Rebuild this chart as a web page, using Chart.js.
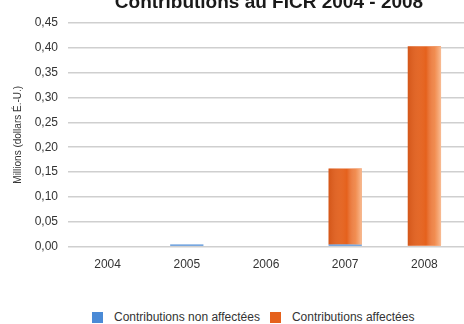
<!DOCTYPE html>
<html>
<head>
<meta charset="utf-8">
<script src="https://cdn.jsdelivr.net/npm/chart.js@4/dist/chart.umd.min.js"></script>
<style>
  html, body { margin: 0; padding: 0; background: #fff; }
  #wrap { width: 464px; height: 324px; position: relative; }
  #canvasBox { position: absolute; left: 0; top: 0; width: 464px; height: 290px; }
  #legende {
    position: absolute; left: 92px; top: 310px; width: 372px;
    font: 12px 'Liberation Sans', Arial, sans-serif; color: #333;
    display: flex; align-items: center; white-space: nowrap; line-height: 14px;
  }
  #legende .item { display: flex; align-items: center; margin-right: 10px; }
  #legende .boite { width: 11px; height: 11px; margin-right: 11px; }
</style>
</head>
<body>
<div id="wrap">
  <div id="canvasBox"><canvas id="chartFicr"></canvas></div>
  <div id="legende"></div>
</div>
<script>
// Données (millions de dollars É.-U.)
const annees = ["2004", "2005", "2006", "2007", "2008"];
const nonAffectees = [0, 0.004, 0, 0.004, 0];
const affectees = [0, 0, 0, 0.153, 0.403];
const titre = "Contributions au FICR 2004 - 2008";
const police = "'Liberation Sans Narrow', 'Liberation Sans', sans-serif";

// Titre centré sur la zone du graphique (coupé en haut comme l'original)
const titrePlugin = {
    id: "titre",
    afterDraw(chart) {
        const { ctx, chartArea } = chart;
        ctx.save();
        ctx.font = "bold 19px " + police;
        ctx.fillStyle = "#1a1a1a";
        ctx.textAlign = "center";
        ctx.textBaseline = "alphabetic";
        ctx.fillText(titre, (chartArea.left + chartArea.right) / 2 + 3, 8);
        ctx.restore();
    }
};

// Petit reflet sur la droite des barres pour l'effet 3D
const refletPlugin = {
    id: "reflet",
    afterDatasetsDraw(chart) {
        const ctx = chart.ctx;
        chart.data.datasets.forEach((ds, i) => {
            const meta = chart.getDatasetMeta(i);
            meta.data.forEach(bar => {
                const h = bar.base - bar.y;
                if (h < 2) return;
                const left = bar.x - bar.width / 2;
                const g = ctx.createLinearGradient(left, 0, left + bar.width, 0);
                g.addColorStop(0, "rgba(160,50,10,0.25)");
                g.addColorStop(0.55, "rgba(255,255,255,0)");
                g.addColorStop(0.8, "rgba(255,190,140,0.45)");
                g.addColorStop(1, "rgba(255,220,190,0.75)");
                ctx.save();
                ctx.fillStyle = g;
                ctx.fillRect(left, bar.y, bar.width, h);
                ctx.restore();
            });
        });
    }
};

const chart = new Chart(document.getElementById("chartFicr").getContext("2d"), {
    type: "bar",
    data: {
        labels: annees,
        datasets: [
            {
                label: "Contributions non affectées",
                data: nonAffectees,
                backgroundColor: "#4a8ad6",
                barPercentage: 0.42,
                categoryPercentage: 1
            },
            {
                label: "Contributions affectées",
                data: affectees,
                backgroundColor: "#e5611c",
                barPercentage: 0.42,
                categoryPercentage: 1
            }
        ]
    },
    options: {
        responsive: true,
        maintainAspectRatio: false,
        animation: false,
        layout: { padding: { top: 23, right: 0, left: 0, bottom: 15 } },
        scales: {
            x: {
                stacked: true,
                grid: { display: false },
                border: { display: false },
                ticks: { color: "#333", font: { family: police, size: 12 }, padding: 3 }
            },
            y: {
                stacked: true,
                min: 0,
                max: 0.45,
                grid: { color: "#cfcfcf", lineWidth: 1.5, drawTicks: false },
                border: { display: false },
                afterFit: scale => { scale.width = 68; },
                ticks: {
                    stepSize: 0.05,
                    padding: 10,
                    color: "#333",
                    font: { family: police, size: 12 },
                    callback: v => v.toFixed(2).replace(".", ",")
                },
                title: {
                    display: true,
                    text: "Millions (dollars É.-U.)",
                    color: "#333",
                    font: { family: police, size: 10 },
                    padding: { top: 12, bottom: 0 }
                }
            }
        },
        plugins: {
            legend: { display: false },
            tooltip: { enabled: false }
        }
    },
    plugins: [titrePlugin, refletPlugin]
});

// Légende HTML (même couleurs que les séries)
const legende = document.getElementById("legende");
chart.data.datasets.forEach(ds => {
    const item = document.createElement("div");
    item.className = "item";
    const boite = document.createElement("span");
    boite.className = "boite";
    boite.style.background = ds.backgroundColor;
    const texte = document.createElement("span");
    texte.textContent = ds.label;
    item.appendChild(boite);
    item.appendChild(texte);
    legende.appendChild(item);
});
</script>
</body>
</html>
